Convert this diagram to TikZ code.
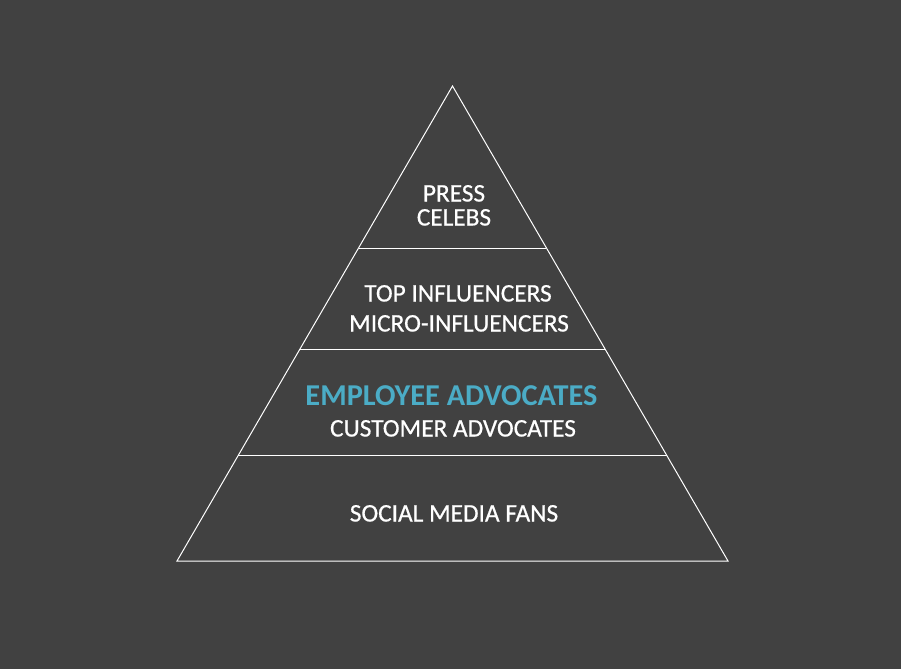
\documentclass[tikz,border=0pt]{standalone}
\usepackage{fontspec}
\setmainfont{Carlito}
\newfontfamily\heavyfont[FakeBold=0.6]{Carlito}
\definecolor{bg}{HTML}{414141}
\definecolor{teal}{HTML}{4BACC6}
\begin{document}
\begin{tikzpicture}[x=1pt,y=-1pt,
  lbl/.style={anchor=base,text=white,font=\heavyfont\fontsize{25.3}{25}\selectfont,inner sep=0pt},
  hl/.style={anchor=base,text=teal,font=\fontsize{30.3}{30}\selectfont\bfseries,inner sep=0pt},
  edge/.style={draw=white,line width=1pt}]
\fill[bg] (0,0) rectangle (901,669);
\useasboundingbox (0,0) rectangle (901,669);
\coordinate (apex) at (452.5,86);
\coordinate (bl) at (177,561);
\coordinate (br) at (728,561);
\draw[edge,line join=miter] (apex) -- (br) -- (bl) -- cycle;
\foreach \y/\n in {248/a,349/b,455/c}{
  \path (apex) -- (bl) coordinate[pos={(\y-86)/475}] (l\n);
  \path (apex) -- (br) coordinate[pos={(\y-86)/475}] (r\n);
  \draw[edge] (l\n) -- (r\n);
}
\node[lbl] (press) at (454,201.5) {PRESS};
\node[lbl] (celebs) at (454,225.5) {CELEBS};
\node[lbl] (top) at (458,301.5) {TOP INFLUENCERS};
\node[lbl] (micro) at (459,331.5) {MICRO-INFLUENCERS};
\node[hl] (emp) at (451.5,405) {EMPLOYEE ADVOCATES};
\node[lbl] (cust) at (453,436.5) {CUSTOMER ADVOCATES};
\node[lbl] (social) at (454,521.5) {SOCIAL MEDIA FANS};
\end{tikzpicture}
\end{document}
